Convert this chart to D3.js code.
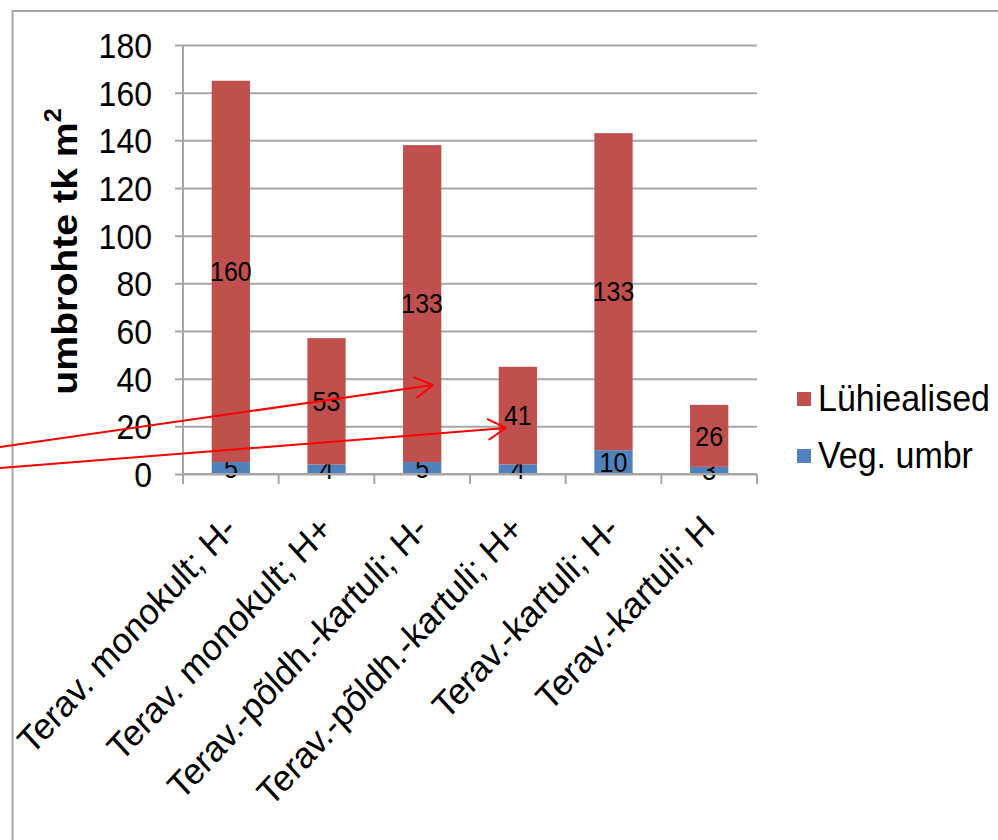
<!DOCTYPE html>
<html>
<head>
<meta charset="utf-8">
<script src="https://cdn.jsdelivr.net/npm/d3@7"></script>
<style>
  html, body { margin: 0; padding: 0; background: #fff; }
  svg { display: block; font-family: "Liberation Sans", Arial, sans-serif; }
</style>
</head>
<body>
<svg id="chart" width="998" height="840"></svg>
<script>
// ---- data ----
const categories = [
  "Terav. monokult; H-",
  "Terav. monokult; H+",
  "Terav.-põldh.-kartuli; H-",
  "Terav.-põldh.-kartuli; H+",
  "Terav.-kartuli; H-",
  "Terav.-kartuli; H"
];
const vegUmbr = [5, 4, 5, 4, 10, 3];
const luhiealised = [160, 53, 133, 41, 133, 26];
const seriesNames = ["Veg. umbr", "Lühiealised"];
const yTicks = [0, 20, 40, 60, 80, 100, 120, 140, 160, 180];
const yTitle = "umbrohte tk m";

const colors = { "Veg. umbr": "#4F81BD", "Lühiealised": "#C0504D" };
const gridColor = "#a6a6a6";
const SY = 1.09; // text appears slightly taller than wide in the reference

const svg = d3.select("#chart");

// outer border
svg.append("rect")
  .attr("x", 12.5).attr("y", 11).attr("width", 1100).attr("height", 1000)
  .attr("fill", "none").attr("stroke", "#a6a6a6").attr("stroke-width", 2);

const plot = { left: 183, right: 757, top: 45, bottom: 474 };

const x = d3.scaleBand().domain(categories)
  .range([plot.left, plot.right]).paddingInner(0.6).paddingOuter(0.3);
const y = d3.scaleLinear().domain([0, 180]).range([plot.bottom, plot.top]);

// gridlines + y axis
const yAxis = d3.axisLeft(y).tickValues(yTicks)
  .tickSize(-(plot.right - plot.left)).tickPadding(0).tickFormat(d3.format("d"));
const gy = svg.append("g").attr("transform", `translate(${plot.left},0)`).call(yAxis);
gy.select(".domain").remove();
gy.selectAll(".tick line").attr("stroke", gridColor).attr("stroke-width", 2)
  .attr("x1", -8);
gy.selectAll(".tick text")
  .attr("x", 0).attr("dy", "0.36em")
  .attr("transform", `translate(-31,0) scale(1,${SY})`)
  .attr("font-size", 32).attr("fill", "#000")
  .attr("font-family", "Liberation Sans, Arial, sans-serif");
// y axis line
svg.append("line").attr("x1", plot.left).attr("x2", plot.left)
  .attr("y1", plot.top).attr("y2", plot.bottom)
  .attr("stroke", gridColor).attr("stroke-width", 2);

// stacked data
const rows = categories.map((c, i) => ({ cat: c, "Veg. umbr": vegUmbr[i], "Lühiealised": luhiealised[i] }));
const stack = d3.stack().keys(seriesNames)(rows);

const layers = svg.append("g").selectAll("g").data(stack).join("g")
  .attr("fill", d => colors[d.key]);
layers.selectAll("rect").data(d => d).join("rect")
  .attr("x", d => x(d.data.cat))
  .attr("width", x.bandwidth())
  .attr("y", d => y(d[1]))
  .attr("height", d => y(d[0]) - y(d[1]));

// x axis line and ticks at category boundaries
const gx = svg.append("g").attr("transform", `translate(0,${plot.bottom})`);
gx.append("line").attr("x1", plot.left).attr("x2", plot.right)
  .attr("stroke", gridColor).attr("stroke-width", 2);
const bounds = d3.range(categories.length + 1).map(i => plot.left + i * x.step());
gx.selectAll("line.tk").data(bounds).join("line").attr("class", "tk")
  .attr("x1", d => d).attr("x2", d => d).attr("y1", 0).attr("y2", 10)
  .attr("stroke", gridColor).attr("stroke-width", 2);

// x labels
svg.append("g").selectAll("text").data(categories).join("text")
  .attr("transform", d => `translate(${x(d) + x.bandwidth() / 2 - 1},522) scale(1,${SY}) rotate(-45)`)
  .attr("text-anchor", "end").attr("dy", "0.35em")
  .attr("font-size", 34).attr("fill", "#000")
  .text(d => d);

// data labels
layers.selectAll("text").data(d => d).join("text")
  .attr("transform", d => `translate(${x(d.data.cat) + x.bandwidth() / 2},${(y(d[0]) + y(d[1])) / 2}) scale(1,${SY})`)
  .attr("dy", "0.36em")
  .attr("text-anchor", "middle").attr("font-size", 25).attr("fill", "#000")
  .text(d => d[1] - d[0]);

// y title
const t = svg.append("text")
  .attr("transform", `translate(77,${(plot.top + plot.bottom) / 2 - 8}) scale(1,${SY}) rotate(-90)`)
  .attr("text-anchor", "middle").attr("font-weight", "bold").attr("font-size", 36).attr("fill", "#000");
t.append("tspan").text(yTitle);
t.append("tspan").attr("font-size", 23).attr("dy", "-0.7em").text("2");

// legend
const legendItems = ["Lühiealised", "Veg. umbr"];
const lg = svg.append("g").selectAll("g").data(legendItems).join("g")
  .attr("transform", (d, i) => `translate(797,${392 + i * 57})`);
lg.append("rect").attr("width", 14).attr("height", 14).attr("fill", d => colors[d]);
lg.append("text").attr("transform", `translate(21,19) scale(1,${SY})`)
  .attr("font-size", 34).attr("fill", "#000").text(d => d);

// red arrows
const arrows = [
  { x1: 0, y1: 447, x2: 433, y2: 385 },
  { x1: 0, y1: 468, x2: 506, y2: 428 }
];
const ag = svg.append("g").attr("stroke", "#ff0000").attr("stroke-width", 2).attr("fill", "none");
arrows.forEach(a => {
  ag.append("line").attr("x1", a.x1).attr("y1", a.y1).attr("x2", a.x2).attr("y2", a.y2);
  const ang = Math.atan2(a.y2 - a.y1, a.x2 - a.x1);
  const L = 21, spread = Math.PI / 6;
  [ang + Math.PI - spread, ang + Math.PI + spread].forEach(b => {
    ag.append("line").attr("x1", a.x2).attr("y1", a.y2)
      .attr("x2", a.x2 + L * Math.cos(b)).attr("y2", a.y2 + L * Math.sin(b));
  });
});
</script>
</body>
</html>
